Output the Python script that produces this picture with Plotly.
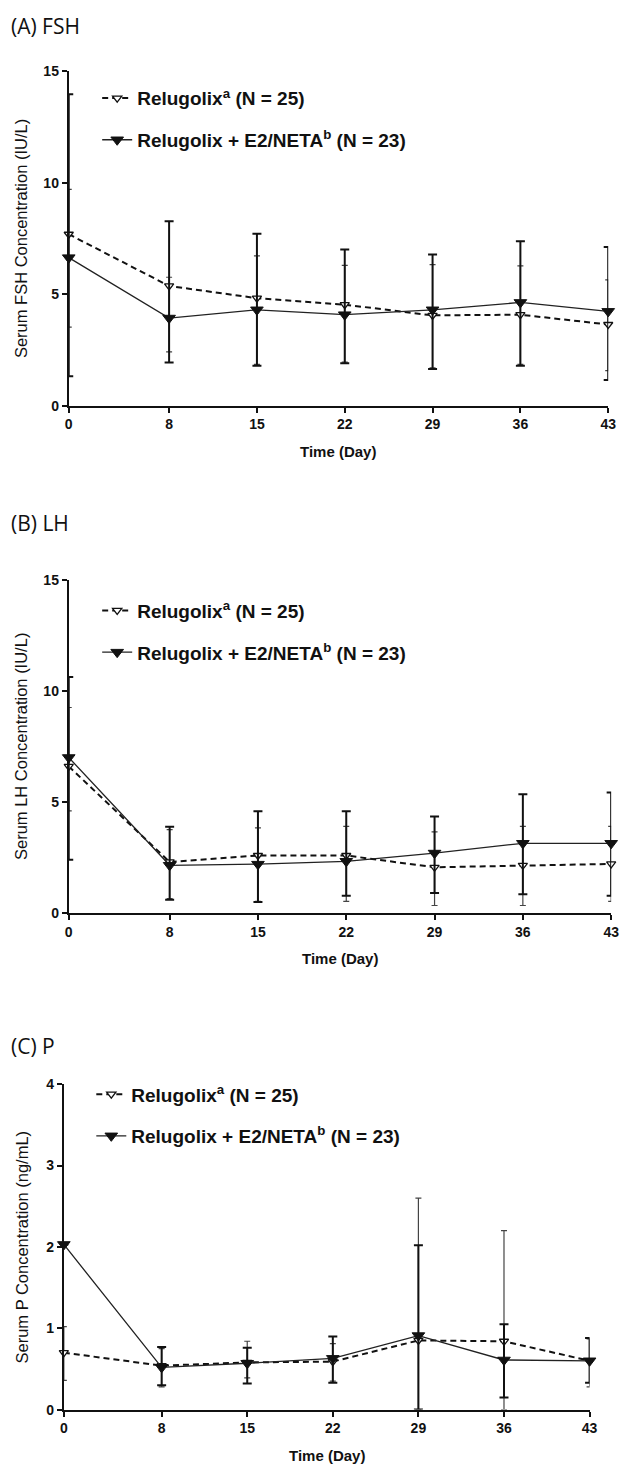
import plotly.graph_objects as go

W, H = 627, 1473

days = [0, 8, 15, 22, 29, 36, 43]

series_names = ["Relugolix<sup>a</sup> (N = 25)", "Relugolix + E2/NETA<sup>b</sup> (N = 23)"]
panel_titles = ["(A) FSH", "(B) LH", "(C) P"]
y_titles = ["Serum FSH Concentration (IU/L)", "Serum LH Concentration (IU/L)", "Serum P Concentration (ng/mL)"]
x_title = "Time (Day)"

# Panel A: FSH (IU/L)  mean, upper end, lower end of error bar
fsh_rel_mean = [7.69, 5.37, 4.82, 4.53, 4.05, 4.08, 3.64]
fsh_rel_hi = [9.70, 5.76, 6.72, 6.29, 6.33, 6.27, 5.64]
fsh_rel_lo = [3.52, 2.41, 1.85, 1.95, 1.70, 1.85, 1.57]
fsh_comb_mean = [6.64, 3.93, 4.30, 4.08, 4.30, 4.63, 4.23]
fsh_comb_hi = [13.97, 8.27, 7.71, 7.01, 6.78, 7.37, 7.12]
fsh_comb_lo = [1.32, 1.94, 1.79, 1.90, 1.64, 1.79, 1.15]

# Panel B: LH (IU/L)
lh_rel_mean = [6.60, 2.30, 2.59, 2.59, 2.06, 2.15, 2.21]
lh_rel_hi = [9.25, 3.75, 3.83, 3.90, 3.65, 3.90, 3.90]
lh_rel_lo = [4.60, 0.65, 0.53, 0.53, 0.34, 0.34, 0.53]
lh_comb_mean = [7.00, 2.15, 2.20, 2.33, 2.70, 3.14, 3.14]
lh_comb_hi = [10.62, 3.88, 4.58, 4.58, 4.35, 5.35, 5.43]
lh_comb_lo = [2.40, 0.60, 0.50, 0.78, 0.90, 0.85, 0.78]

# Panel C: P (ng/mL)
p_rel_mean = [0.70, 0.54, 0.58, 0.59, 0.85, 0.84, 0.60]
p_rel_hi = [1.02, 0.75, 0.84, 0.81, 2.60, 2.20, 0.87]
p_rel_lo = [0.36, 0.28, 0.39, 0.35, 0.00, 0.00, 0.28]
p_comb_mean = [2.03, 0.52, 0.57, 0.63, 0.91, 0.61, 0.60]
p_comb_hi = [2.03, 0.77, 0.76, 0.90, 2.02, 1.05, 0.88]
p_comb_lo = [2.03, 0.30, 0.32, 0.33, 0.00, 0.15, 0.33]

y_ranges = [[0, 15], [0, 15], [0, 4]]
y_ticks = [[0, 5, 10, 15], [0, 5, 10, 15], [0, 1, 2, 3, 4]]

panels = [
    (fsh_rel_mean, fsh_rel_hi, fsh_rel_lo, fsh_comb_mean, fsh_comb_hi, fsh_comb_lo),
    (lh_rel_mean, lh_rel_hi, lh_rel_lo, lh_comb_mean, lh_comb_hi, lh_comb_lo),
    (p_rel_mean, p_rel_hi, p_rel_lo, p_comb_mean, p_comb_hi, p_comb_lo),
]

# layout geometry in pixels (left, right, top, bottom of plot area)
boxes = [(66, 616, 64, 402), (66, 619, 578, 915), (61, 597, 1088, 1417)]
title_y = [18, 521, 1049]
legend_pos = [(95, 72), (95, 590), (89, 1079)]

FONT = "Liberation Sans, Arial, sans-serif"

fig = go.Figure()

for i, (rm, rh, rl, cm, ch, cl) in enumerate(panels):
    sx = "" if i == 0 else str(i + 1)
    xa, ya = "x" + sx, "y" + sx
    lg = "legend" + sx
    fig.add_trace(go.Scatter(
        x=days, y=rm, xaxis=xa, yaxis=ya, mode="lines+markers",
        name=series_names[0], legend=lg, legendgroup=f"r{i}",
        line=dict(color="#111", width=2, dash="6px,4px"),
        marker=dict(symbol="triangle-down", size=8, color="white",
                    line=dict(color="#111", width=1.3)),
        error_y=dict(type="data", symmetric=False,
                     array=[h - m for h, m in zip(rh, rm)],
                     arrayminus=[m - l for m, l in zip(rm, rl)],
                     color="#444", thickness=1.2, width=3),
        cliponaxis=False,
    ))
    fig.add_trace(go.Scatter(
        x=days, y=cm, xaxis=xa, yaxis=ya, mode="lines+markers",
        name=series_names[1], legend=lg, legendgroup=f"c{i}",
        line=dict(color="#222", width=1.3),
        marker=dict(symbol="triangle-down", size=11, color="#111",
                    line=dict(color="#111", width=1)),
        error_y=dict(type="data", symmetric=False,
                     array=[h - m for h, m in zip(ch, cm)],
                     arrayminus=[m - l for m, l in zip(cm, cl)],
                     color="#111", thickness=2, width=4.5),
        cliponaxis=False,
    ))

layout = dict(
    width=W, height=H, margin=dict(l=0, r=0, t=0, b=0),
    paper_bgcolor="white", plot_bgcolor="white",
    font=dict(family=FONT, color="#111"),
    annotations=[],
)

for i in range(3):
    sx = "" if i == 0 else str(i + 1)
    l, r, t, b = boxes[i]
    layout["xaxis" + sx] = dict(
        domain=[l / W, r / W], anchor="y" + sx, range=[0, 43],
        tickvals=days, ticktext=[str(d) for d in days],
        showline=True, linecolor="#111", linewidth=2,
        ticks="outside", ticklen=5, tickwidth=2, tickcolor="#111",
        showgrid=False, zeroline=False,
        tickfont=dict(size=14, family=FONT, weight="bold", color="#111"),
    )
    layout["yaxis" + sx] = dict(
        domain=[1 - b / H, 1 - t / H], anchor="x" + sx, range=y_ranges[i],
        tickvals=y_ticks[i], ticktext=[str(v) for v in y_ticks[i]],
        showline=True, linecolor="#111", linewidth=2,
        ticks="outside", ticklen=5, tickwidth=2, tickcolor="#111",
        showgrid=False, zeroline=False,
        tickfont=dict(size=14, family=FONT, weight="bold", color="#111"),
    )
    lx, ly = legend_pos[i]
    layout["legend" + sx] = dict(
        x=lx / W, y=1 - ly / H, xanchor="left", yanchor="top",
        bgcolor="rgba(0,0,0,0)", tracegroupgap=14, traceorder="grouped",
        font=dict(size=19, family=FONT, weight="bold", color="#111"),
    )
    layout["annotations"] += [
        dict(text=panel_titles[i], x=5 / W, y=1 - title_y[i] / H, xref="paper", yref="paper",
             xanchor="left", yanchor="middle", showarrow=False,
             font=dict(size=21, family="Open Sans, sans-serif", weight=500, color="#111")),
        dict(text=y_titles[i], x=18 / W, y=1 - (t + b) / 2 / H, xref="paper", yref="paper",
             xanchor="center", yanchor="middle", showarrow=False, textangle=-90,
             font=dict(size=16.5, family=FONT, color="#111")),
        dict(text=x_title, x=(l + r) / 2 / W, y=1 - (b + 46) / H, xref="paper", yref="paper",
             xanchor="center", yanchor="middle", showarrow=False,
             font=dict(size=15, family=FONT, weight="bold", color="#111")),
    ]

fig.update_layout(**layout)
fig.write_html("out.html")
